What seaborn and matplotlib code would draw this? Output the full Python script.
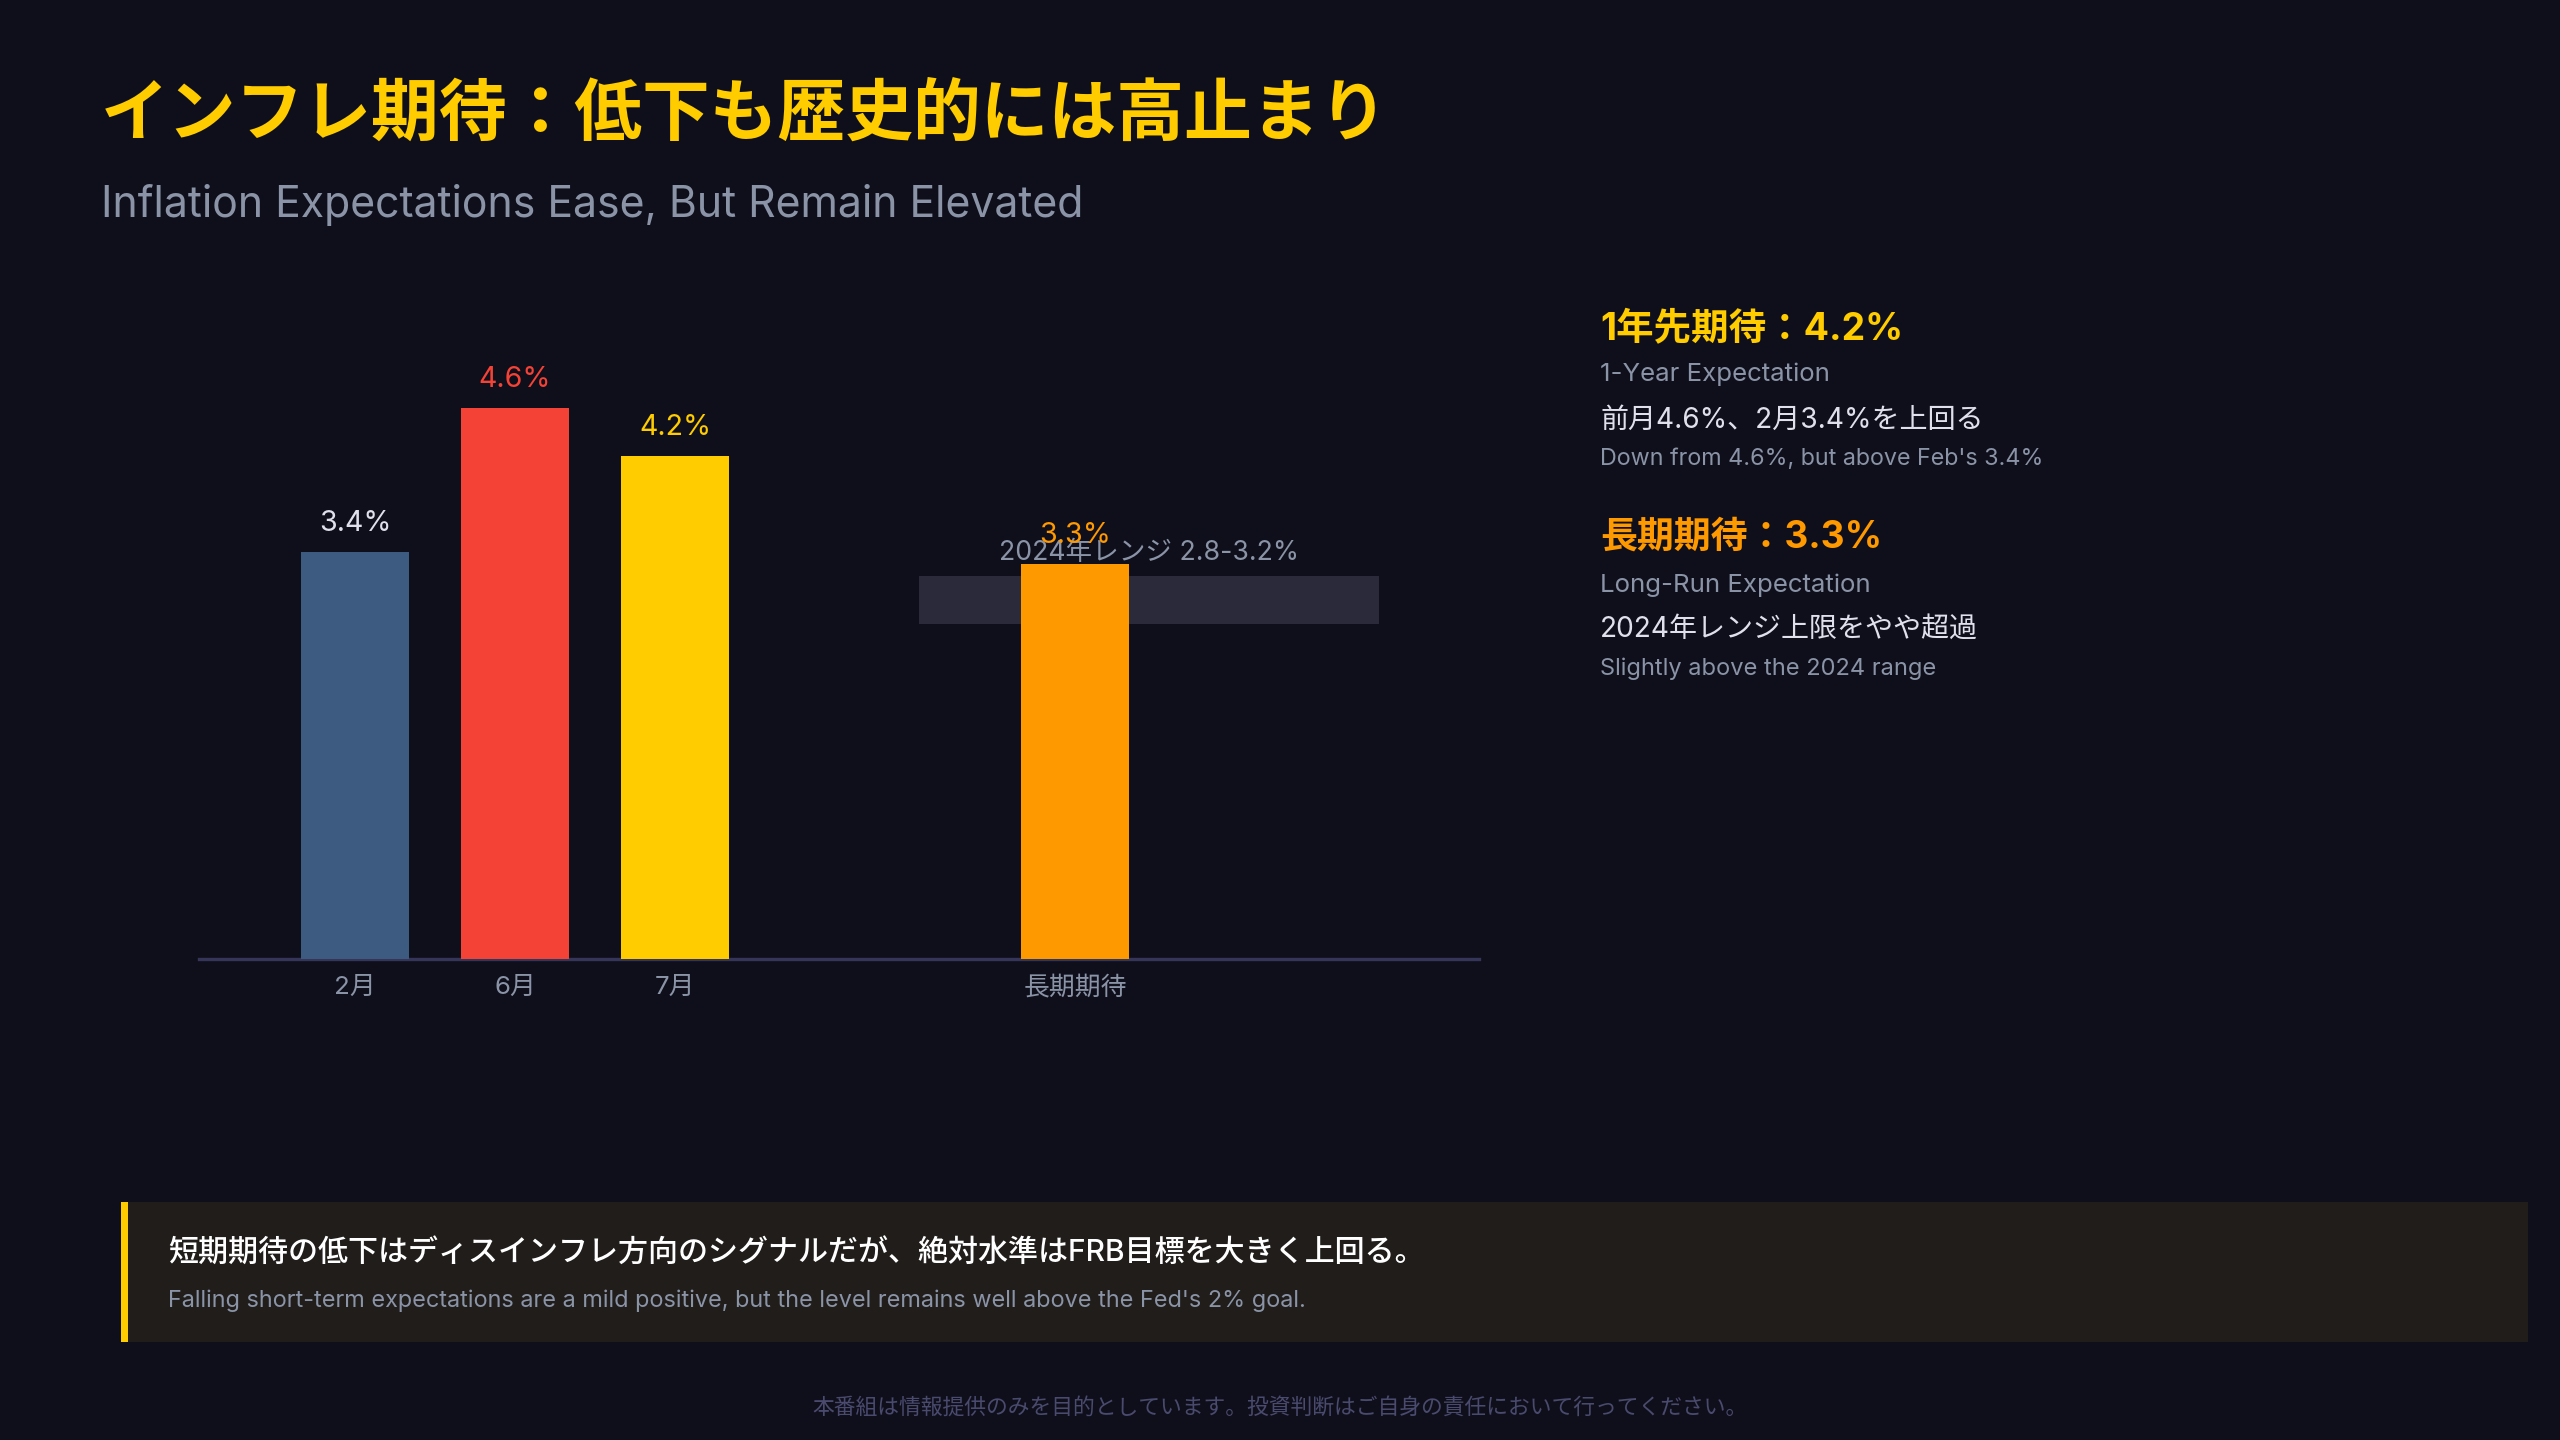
import pandas as pd
import seaborn as sns
import matplotlib.pyplot as plt
from matplotlib.patches import Rectangle

# data
categories = ["2月", "6月", "7月", "長期期待"]
positions = [0, 1, 2, 4.5]
values = [3.4, 4.6, 4.2, 3.3]
bar_colors = ["#3d5a80", "#f44336", "#ffcc00", "#ff9900"]
label_colors = ["#e0e0ec", "#f44336", "#ffcc00", "#ff9900"]
range_low, range_high = 2.8, 3.2
range_x = [3.525, 6.4]

BG = "#0f0f1c"
GREY = "#8a94a6"
WHITE = "#e0e0ec"

sns.set_style("dark")
plt.rcParams["font.family"] = ["Inter", "Noto Sans CJK JP", "DejaVu Sans"]

W, H = 2560, 1440
fig = plt.figure(figsize=(12.8, 7.2), dpi=200, facecolor=BG)


def fx(px):
    return px / W


def fy(py):
    return 1 - py / H


ax = fig.add_axes([fx(199), fy(959), (1479 - 199) / W, (959 - 300) / H])
ax.set_facecolor(BG)

df = pd.DataFrame({"pos": positions, "val": values, "cat": categories})
sns.barplot(data=df, x="pos", y="val", hue="cat",
            palette=dict(zip(categories, bar_colors)),
            native_scale=True, dodge=False, width=0.68, saturation=1,
            errorbar=None, legend=False, ax=ax, zorder=3, linewidth=0)

# 2024 range band
ax.fill_between(range_x, range_low, range_high, color="#2a2a3a", zorder=1, lw=0)
ax.annotate(f"2024年レンジ {range_low}-{range_high}%",
            (sum(range_x) / 2, range_high), xytext=(0, 3.5), textcoords="offset points",
            ha="center", va="bottom", color=GREY, fontsize=9.6, zorder=2)

for p, v, c in zip(positions, values, label_colors):
    ax.annotate(f"{v}%", (p, v), xytext=(0, 10.2), textcoords="offset points",
                ha="center", va="center", color=c, fontsize=10.3, zorder=4)

ax.set_xlim(-0.975, 7.025)
ax.set_ylim(0, 5.5)
ax.set_xticks(positions)
ax.set_xticklabels(categories)
ax.set_yticks([])
ax.set_xlabel("")
ax.set_ylabel("")
ax.tick_params(axis="x", length=0, pad=6, colors=GREY, labelsize=9.3)
for s in ["top", "right", "left"]:
    ax.spines[s].set_visible(False)
ax.spines["bottom"].set_color("#35355a")
ax.spines["bottom"].set_linewidth(1.2)
ax.grid(False)

# titles
fig.text(fx(101), fy(117), "インフレ期待：低下も歴史的には高止まり",
         color="#ffcc00", fontsize=24.4, fontweight="bold", va="center")
fig.text(fx(101), fy(205), "Inflation Expectations Ease, But Remain Elevated",
         color=GREY, fontsize=15.4, va="center")

# right panel
fig.text(fx(1600), fy(330), "1年先期待：4.2%", color="#ffcc00", fontsize=13.5,
         fontweight="bold", va="center")
fig.text(fx(1600), fy(374), "1-Year Expectation", color=GREY, fontsize=9.3, va="center")
fig.text(fx(1600), fy(420), "前月4.6%、2月3.4%を上回る", color=WHITE, fontsize=10.1, va="center")
fig.text(fx(1600), fy(459), "Down from 4.6%, but above Feb's 3.4%", color=GREY,
         fontsize=8.4, va="center")
fig.text(fx(1600), fy(538), "長期期待：3.3%", color="#ff9900", fontsize=13.3,
         fontweight="bold", va="center")
fig.text(fx(1600), fy(585), "Long-Run Expectation", color=GREY, fontsize=9.3, va="center")
fig.text(fx(1600), fy(629), "2024年レンジ上限をやや超過", color=WHITE, fontsize=10.1, va="center")
fig.text(fx(1600), fy(669), "Slightly above the 2024 range", color=GREY, fontsize=8.5, va="center")

# bottom box
fig.add_artist(Rectangle((fx(121), fy(1342)), (2528 - 121) / W, (1342 - 1202) / H,
                         transform=fig.transFigure, facecolor="#201d1b", lw=0))
fig.add_artist(Rectangle((fx(121), fy(1342)), 7 / W, (1342 - 1202) / H,
                         transform=fig.transFigure, facecolor="#ffcc00", lw=0))
fig.text(fx(168), fy(1253),
         "短期期待の低下はディスインフレ方向のシグナルだが、絶対水準はFRB目標を大きく上回る。",
         color="#ffffff", fontsize=10.8, fontweight="medium", va="center")
fig.text(fx(168), fy(1301),
         "Falling short-term expectations are a mild positive, but the level remains well above the Fed's 2% goal.",
         color=GREY, fontsize=8.45, va="center")

# footer
fig.text(0.5, fy(1407),
         "本番組は情報提供のみを目的としています。投資判断はご自身の責任において行ってください。",
         color="#4a4a6e", fontsize=7.85, ha="center", va="center")

fig.savefig("out.png", dpi=200, facecolor=BG)
